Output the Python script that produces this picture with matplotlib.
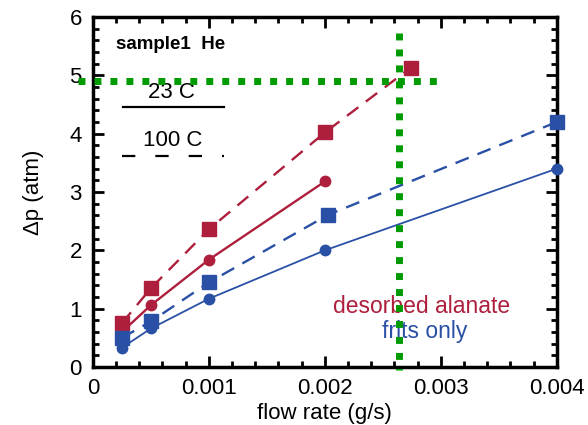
import numpy as np
import matplotlib
matplotlib.use("Agg")
import matplotlib.pyplot as plt
from matplotlib.ticker import MultipleLocator

plt.rcParams['font.family'] = ['Liberation Sans', 'DejaVu Sans']

# データ
# desorbed alanate (赤)
red_sq_x = [0.00025, 0.0005, 0.001, 0.002, 0.00274]
red_sq_y = [0.75, 1.35, 2.36, 4.02, 5.13]
red_ci_x = [0.00025, 0.0005, 0.001, 0.002]
red_ci_y = [0.60, 1.06, 1.84, 3.18]
# frits only (青)
blue_sq_x = [0.00025, 0.0005, 0.001, 0.00203, 0.004]
blue_sq_y = [0.50, 0.78, 1.45, 2.61, 4.20]
blue_ci_x = [0.00025, 0.0005, 0.001, 0.002, 0.004]
blue_ci_y = [0.33, 0.66, 1.17, 2.00, 3.40]

# 緑の補助線
guide_y = 4.9
guide_x = 0.00264

RED = '#ad1f3c'
BLUE = '#2a50a6'
GREEN = '#009b00'

fig = plt.figure(figsize=(5.88, 4.25), dpi=100)
ax = fig.add_axes([0.158, 0.1365, 0.789, 0.8235])

dash = (6, 4)
ax.plot(red_sq_x, red_sq_y, color=RED, lw=1.7, dashes=dash,
        marker='s', ms=10.5, zorder=3)
ax.plot(red_ci_x, red_ci_y, color=RED, lw=1.7,
        marker='o', ms=7.5, zorder=3)
ax.plot(blue_sq_x, blue_sq_y, color=BLUE, lw=1.7, dashes=dash,
        marker='s', ms=10.5, zorder=3, clip_on=False)
ax.plot(blue_ci_x, blue_ci_y, color=BLUE, lw=1.3,
        marker='o', ms=7.5, zorder=3, clip_on=False)

# 凡例風の線とテキスト
ax.plot([0.00026, 0.00113], [4.46, 4.46], color='black', lw=1.6)
ax.plot([0.00025, 0.00113], [3.62, 3.62], color='black', lw=1.6, dashes=(6, 9))
ax.text(0.00068, 4.70, '23 C', fontsize=16, ha='center', va='center')
ax.text(0.00069, 3.88, '100 C', fontsize=16, ha='center', va='center')
ax.text(0.0002, 5.52, 'sample1  He', fontsize=13.5, fontweight='bold',
        ha='left', va='center')
ax.text(0.00283, 1.03, 'desorbed alanate', fontsize=16.5, color=RED,
        ha='center', va='center')
ax.text(0.00286, 0.60, 'frits only', fontsize=16.5, color=BLUE,
        ha='center', va='center')

# 緑の点線
ax.plot([-0.00013, 0.00297], [guide_y, guide_y], color=GREEN, lw=5,
        dashes=(1, 1.3), clip_on=False, zorder=4)
ax.plot([guide_x, guide_x], [5.73, -0.05], color=GREEN, lw=5,
        dashes=(1, 1.3), clip_on=False, zorder=4)

ax.set_xlim(0, 0.004)
ax.set_ylim(0, 6)
ax.xaxis.set_minor_locator(MultipleLocator(0.0002))
ax.yaxis.set_major_locator(MultipleLocator(1))
ax.yaxis.set_minor_locator(MultipleLocator(0.2))
ax.set_xticks([0, 0.001, 0.002, 0.003, 0.004])
ax.set_xticklabels(['0', '0.001', '0.002', '0.003', '0.004'])

ax.tick_params(which='both', direction='in', top=True, right=True,
               labelsize=16, width=2)
ax.tick_params(which='major', length=8, pad=8)
ax.tick_params(which='minor', length=4)
for s in ax.spines.values():
    s.set_linewidth(2.5)

ax.set_xlabel('flow rate (g/s)', fontsize=16, labelpad=3)
ax.set_ylabel('Δp (atm)', fontsize=16, labelpad=18)

fig.savefig('out.png', dpi=100)
